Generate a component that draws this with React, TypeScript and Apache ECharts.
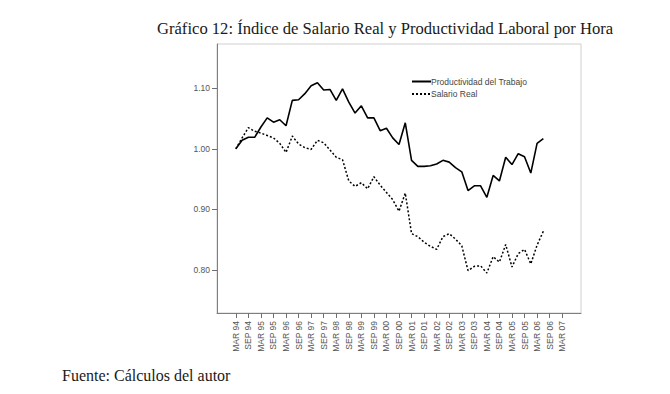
import React, { useEffect, useRef } from "react";
import * as echarts from "echarts";

// Full axis of quarters (with padding quarters before and after the data)
const axisQuarters = [
  "JUN 93", "SEP 93", "DEC 93",
  "MAR 94", "JUN 94", "SEP 94", "DEC 94",
  "MAR 95", "JUN 95", "SEP 95", "DEC 95",
  "MAR 96", "JUN 96", "SEP 96", "DEC 96",
  "MAR 97", "JUN 97", "SEP 97", "DEC 97",
  "MAR 98", "JUN 98", "SEP 98", "DEC 98",
  "MAR 99", "JUN 99", "SEP 99", "DEC 99",
  "MAR 00", "JUN 00", "SEP 00", "DEC 00",
  "MAR 01", "JUN 01", "SEP 01", "DEC 01",
  "MAR 02", "JUN 02", "SEP 02", "DEC 02",
  "MAR 03", "JUN 03", "SEP 03", "DEC 03",
  "MAR 04", "JUN 04", "SEP 04", "DEC 04",
  "MAR 05", "JUN 05", "SEP 05", "DEC 05",
  "MAR 06", "JUN 06", "SEP 06", "DEC 06",
  "MAR 07", "JUN 07", "SEP 07", "DEC 07",
];

// Tick labels shown on the x axis
const tickLabels = [
  "MAR 94", "SEP 94", "MAR 95", "SEP 95", "MAR 96", "SEP 96", "MAR 97", "SEP 97",
  "MAR 98", "SEP 98", "MAR 99", "SEP 99", "MAR 00", "SEP 00", "MAR 01", "SEP 01",
  "MAR 02", "SEP 02", "MAR 03", "SEP 03", "MAR 04", "SEP 04", "MAR 05", "SEP 05",
  "MAR 06", "SEP 06", "MAR 07",
];

// Quarters with data: MAR 94 .. JUN 06
const dataQuarters = axisQuarters.slice(3, 53);

const productividad = [
  1.000, 1.014, 1.019, 1.019, 1.036, 1.051, 1.044, 1.048, 1.038, 1.080,
  1.081, 1.091, 1.104, 1.109, 1.097, 1.098, 1.080, 1.099, 1.077, 1.059,
  1.071, 1.051, 1.051, 1.030, 1.034, 1.018, 1.007, 1.043, 0.981, 0.971,
  0.971, 0.972, 0.975, 0.981, 0.978, 0.969, 0.962, 0.931, 0.939, 0.939,
  0.920, 0.956, 0.947, 0.986, 0.974, 0.992, 0.987, 0.960, 1.009, 1.017,
];

const salarioReal = [
  1.000, 1.018, 1.035, 1.029, 1.026, 1.022, 1.018, 1.009, 0.994, 1.021,
  1.008, 1.002, 0.999, 1.014, 1.010, 0.998, 0.986, 0.982, 0.947, 0.938,
  0.944, 0.934, 0.954, 0.940, 0.928, 0.916, 0.897, 0.927, 0.860, 0.855,
  0.846, 0.839, 0.834, 0.855, 0.860, 0.851, 0.840, 0.799, 0.806, 0.807,
  0.795, 0.822, 0.813, 0.842, 0.805, 0.827, 0.834, 0.810, 0.841, 0.864,
];

const yTicks = [0.8, 0.9, 1.0, 1.1];

const seriesNames = ["Productividad del Trabajo", "Salario Real"];
const titleText = "Gráfico 12: Índice de Salario Real y Productividad Laboral por Hora";
const sourceText = "Fuente: Cálculos del autor";

export default function App() {
  const ref = useRef<HTMLDivElement>(null);

  useEffect(() => {
    if (!ref.current) return;
    const chart = echarts.init(ref.current, undefined, { renderer: "svg" });
    const tickSet = new Set(tickLabels);
    const axisFont = "'Liberation Sans', Arial, sans-serif";
    chart.setOption({
      animation: false,
      backgroundColor: "#ffffff",
      title: {
        text: titleText,
        left: 157,
        top: 20,
        padding: 0,
        textStyle: {
          fontFamily: "'Liberation Serif', 'DejaVu Serif', serif",
          fontSize: 16.6,
          fontWeight: "normal",
          color: "#1a1a1a",
        },
      },
      graphic: [
        {
          type: "text",
          left: 62,
          top: 367,
          style: {
            text: sourceText,
            font: "16px 'Liberation Serif', 'DejaVu Serif', serif",
            fill: "#1a1a1a",
          },
        },
      ],
      legend: {
        orient: "vertical",
        left: 411,
        top: 77,
        padding: 0,
        itemWidth: 19,
        itemHeight: 8,
        itemGap: 3.6,
        data: seriesNames,
        itemStyle: { color: "transparent", borderColor: "transparent", borderWidth: 0 },
        textStyle: {
          fontFamily: axisFont,
          fontSize: 8.5,
          color: "#444",
          padding: [0, 0, 0, -5],
        },
      },
      grid: {
        left: 217,
        top: 44,
        right: 89,
        bottom: 81,
        show: true,
        borderColor: "#cfcfcf",
        borderWidth: 1,
        containLabel: false,
      },
      xAxis: {
        type: "category",
        data: axisQuarters,
        boundaryGap: false,
        axisLine: { lineStyle: { color: "#7f7f7f", width: 1 } },
        axisTick: {
          length: 5,
          interval: (_i: number, v: string) => tickSet.has(v),
          lineStyle: { color: "#6f6f6f" },
        },
        axisLabel: {
          interval: (_i: number, v: string) => tickSet.has(v),
          rotate: 90,
          margin: 8,
          fontFamily: axisFont,
          fontSize: 8.5,
          color: "#555",
        },
        splitLine: { show: false },
      },
      yAxis: {
        type: "value",
        min: 0.729,
        max: 1.173,
        axisLine: { show: true, lineStyle: { color: "#7f7f7f", width: 1 } },
        axisTick: {
          show: true,
          length: 5,
          customValues: yTicks,
          lineStyle: { color: "#6f6f6f" },
        },
        axisLabel: {
          customValues: yTicks,
          formatter: (v: number) => v.toFixed(2),
          margin: 7,
          fontFamily: axisFont,
          fontSize: 8.5,
          color: "#555",
        },
        splitLine: { show: false },
      },
      series: [
        {
          name: seriesNames[0],
          type: "line",
          symbol: "none",
          data: dataQuarters.map((q, i) => [q, productividad[i]]),
          lineStyle: { color: "#000", width: 1.6, type: "solid" },
          itemStyle: { color: "#000" },
        },
        {
          name: seriesNames[1],
          type: "line",
          symbol: "none",
          data: dataQuarters.map((q, i) => [q, salarioReal[i]]),
          lineStyle: { color: "#000", width: 1.5, type: [2, 2] },
          itemStyle: { color: "#000" },
        },
      ],
    });
    return () => chart.dispose();
  }, []);

  return (
    <div
      ref={ref}
      style={{ position: "fixed", left: 0, top: 0, width: 670, height: 394 }}
    />
  );
}
